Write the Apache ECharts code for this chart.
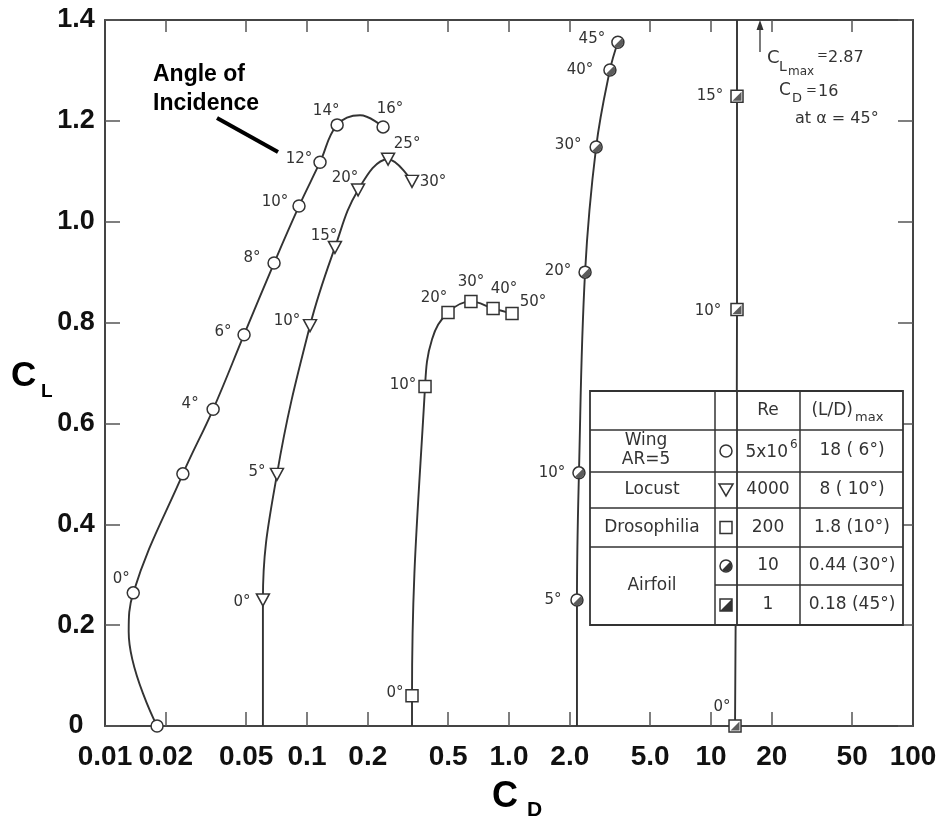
<!DOCTYPE html>
<html><head><meta charset="utf-8">
<script src="https://cdn.jsdelivr.net/npm/echarts@6/dist/echarts.min.js"></script>
<style>html,body{margin:0;padding:0;background:#fff}#c{width:941px;height:821px}</style>
</head><body><div id="c"></div>
<script>
// ---------------- DATA ----------------
const xTickValues = [0.01, 0.02, 0.05, 0.1, 0.2, 0.5, 1, 2, 5, 10, 20, 50, 100];
const xTickLabels = ['0.01', '0.02', '0.05', '0.1', '0.2', '0.5', '1.0', '2.0', '5.0', '10', '20', '50', '100'];
const yTickValues = [0, 0.2, 0.4, 0.6, 0.8, 1.0, 1.2, 1.4];
const yTickLabels = ['0', '0.2', '0.4', '0.6', '0.8', '1.0', '1.2', '1.4'];

// angle '' = marker without label, null = point (no marker)
const wingCD = [0.0181, 0.0131, 0.0138, 0.0243, 0.0343, 0.0488, 0.0687, 0.0913, 0.116, 0.141, 0.183, 0.238];
const wingCL = [0, 0.187, 0.264, 0.50, 0.628, 0.776, 0.918, 1.031, 1.118, 1.192, 1.211, 1.188];
const wingAngle = ['', null, '0°', '', '4°', '6°', '8°', '10°', '12°', '14°', null, '16°'];

const locustCD = [0.0605, 0.0605, 0.0710, 0.1035, 0.1375, 0.179, 0.252, 0.331];
const locustCL = [0, 0.250, 0.499, 0.794, 0.949, 1.063, 1.124, 1.080];
const locustAngle = [null, '0°', '5°', '10°', '15°', '20°', '25°', '30°'];

const drosoCD = [0.331, 0.331, 0.384, 0.416, 0.499, 0.648, 0.834, 1.035];
const drosoCL = [0, 0.060, 0.673, 0.767, 0.820, 0.842, 0.828, 0.818];
const drosoAngle = [null, '0°', '10°', null, '20°', '30°', '40°', '50°'];

const airfoil10CD = [2.17, 2.17, 2.22, 2.38, 2.70, 3.16, 3.46];
const airfoil10CL = [0, 0.250, 0.502, 0.900, 1.148, 1.301, 1.356];
const airfoil10Angle = [null, '5°', '10°', '20°', '30°', '40°', '45°'];

const airfoil1CD = [13.15, 13.45, 13.45, 13.45];
const airfoil1CL = [0, 0.826, 1.249, 1.40];
const airfoil1Angle = ['0°', '10°', '15°', null];

const tableHeader = ['Re', '(L/D)', 'max'];
const tableNames = ['Wing', 'AR=5', 'Locust', 'Drosophilia', 'Airfoil'];
const tableRe = ['5x10', '4000', '200', '10', '1'];
const tableReExp = '6';
const tableLD = ['18 ( 6°)', '8 ( 10°)', '1.8 (10°)', '0.44 (30°)', '0.18 (45°)'];
const noteText = ['C', 'L', 'max', '=', '2.87', 'C', 'D', '=', '16', 'at α = 45°'];
const pointerText = ['Angle of', 'Incidence'];
const axisNames = ['C', 'L', 'C', 'D'];

// ---------------- STYLE / LAYOUT ----------------
const wingOffsets = [null, null, [-12, -14], null, [-23, -5], [-21, -3], [-22, -5], [-24, -4], [-21, -3], [-11, -14], null, [7, -18]];
const locustOffsets = [null, [-21, 2], [-20, -2], [-23, -4], [-11, -11], [-13, -12], [19, -15], [21, 1]];
const drosoOffsets = [null, [-17, -3], [-22, -2], null, [-14, -14], [0, -19], [11, -19], [21, -11]];
const a10Offsets = [null, [-24, 0], [-27, 0], [-27, -1], [-28, -2], [-30, 0], [-26, -3]];
const a1Offsets = [[-13, -19], [-29, 2], [-27, 0], null];

const INK = '#333';
const LBL_FONT = '"DejaVu Sans", sans-serif';

function buildData(cd, cl, angle, offsets) {
  return cd.map((x, i) => {
    const item = { value: [x, cl[i]], name: angle[i] || '' };
    if (angle[i] === null) item.symbol = 'none';
    if (angle[i]) item.label = { show: true, offset: offsets[i] };
    return item;
  });
}
function markerData(cd, cl, angle) {
  const out = [];
  cd.forEach((x, i) => { if (angle[i] !== null) out.push([x, cl[i]]); });
  return out;
}
function lineSeries(name, data, symbol, size, rotate) {
  return {
    name, type: 'line', data, smooth: 0.4, clip: false,
    symbol, symbolSize: size, symbolRotate: rotate || 0,
    lineStyle: { color: INK, width: 1.9 },
    itemStyle: { color: '#fff', borderColor: INK, borderWidth: 1.5 },
    label: { show: false, position: 'inside', formatter: '{b}', fontFamily: LBL_FONT, fontSize: 15, color: '#333' },
    emphasis: { disabled: true }, z: 2
  };
}
const halfDisk = 'path://M1.7071 0.2929 A1 1 0 0 1 0.2929 1.7071 Z';
const halfSquare = 'path://M2 0 L2 2 L0 2 Z';

function findIdx(arr, v, log) {
  return arr.findIndex(t => Math.abs((log ? Math.log10(t) - Math.log10(v) : t - v)) < 1e-6);
}

const chart = echarts.init(document.getElementById('c'), null, { renderer: 'canvas' });

// table geometry
const T = { x0: 590, x1: 715, x2: 737, x3: 800, x4: 903, y0: 391, y1: 430, y2: 472, y3: 508, y4: 547, y5: 585, y6: 625 };
const tFont = '17px "DejaVu Sans"';
function txt(text, x, y, font, align, fill) {
  return { type: 'text', x, y, z: 101, silent: true,
    style: { text, font: font || tFont, fill: fill || '#333', align: align || 'center', verticalAlign: 'middle' } };
}
function ln(x1, y1, x2, y2, w, c) {
  return { type: 'line', z: 101, silent: true, shape: { x1, y1, x2, y2 }, style: { stroke: c || '#333', lineWidth: w || 1.5 } };
}
const rowY = [(T.y1 + T.y2) / 2, (T.y2 + T.y3) / 2, (T.y3 + T.y4) / 2, (T.y4 + T.y5) / 2, (T.y5 + T.y6) / 2];
const symX = 726, reX = 768, ldX = 852, nameX = 652;
const tableEls = [
  { type: 'rect', z: 100, silent: true, shape: { x: T.x0, y: T.y0, width: T.x4 - T.x0, height: T.y6 - T.y0 }, style: { fill: '#fff', stroke: '#333', lineWidth: 1.8 } },
  ln(T.x1, T.y0, T.x1, T.y6), ln(T.x2, T.y0, T.x2, T.y6, 1.8), ln(T.x3, T.y0, T.x3, T.y6),
  ln(T.x0, T.y1, T.x4, T.y1), ln(T.x0, T.y2, T.x4, T.y2), ln(T.x0, T.y3, T.x4, T.y3), ln(T.x0, T.y4, T.x4, T.y4),
  ln(T.x1, T.y5, T.x4, T.y5),
  txt(tableHeader[0], reX, 411),
  txt(tableHeader[1], 853, 411, tFont, 'right'),
  txt(tableHeader[2], 855, 418, '13px "DejaVu Sans"', 'left'),
  txt(tableNames[0], 646, 441), txt(tableNames[1], 646, 460),
  txt(tableNames[2], nameX, rowY[1]), txt(tableNames[3], nameX, rowY[2]),
  txt(tableNames[4], nameX, (T.y4 + T.y6) / 2),
  txt(tableRe[0], 788, rowY[0] + 2, tFont, 'right'), txt(tableReExp, 790, rowY[0] - 6, '12px "DejaVu Sans"', 'left'),
  txt(tableRe[1], reX, rowY[1]), txt(tableRe[2], reX, rowY[2]), txt(tableRe[3], reX, rowY[3]), txt(tableRe[4], reX, rowY[4]),
  txt(tableLD[0], ldX, rowY[0]), txt(tableLD[1], ldX, rowY[1]), txt(tableLD[2], ldX, rowY[2]),
  txt(tableLD[3], ldX, rowY[3]), txt(tableLD[4], ldX, rowY[4]),
  { type: 'circle', z: 101, silent: true, shape: { cx: symX, cy: rowY[0], r: 6 }, style: { fill: '#fff', stroke: '#333', lineWidth: 1.5 } },
  { type: 'polygon', z: 101, silent: true, shape: { points: [[symX - 7, rowY[1] - 6], [symX + 7, rowY[1] - 6], [symX, rowY[1] + 6]] }, style: { fill: '#fff', stroke: '#333', lineWidth: 1.5 } },
  { type: 'rect', z: 101, silent: true, shape: { x: symX - 6, y: rowY[2] - 6, width: 12, height: 12 }, style: { fill: '#fff', stroke: '#333', lineWidth: 1.5 } },
  { type: 'circle', z: 101, silent: true, shape: { cx: symX, cy: rowY[3], r: 6 }, style: { fill: '#fff', stroke: '#333', lineWidth: 1.5 } },
  { type: 'sector', z: 102, silent: true, shape: { cx: symX, cy: rowY[3], r0: 0, r: 5.5, startAngle: -Math.PI / 4, endAngle: 3 * Math.PI / 4, clockwise: true }, style: { fill: '#333' } },
  { type: 'rect', z: 101, silent: true, shape: { x: symX - 6, y: rowY[4] - 6, width: 12, height: 12 }, style: { fill: '#fff', stroke: '#333', lineWidth: 1.5 } },
  { type: 'polygon', z: 102, silent: true, shape: { points: [[symX + 6, rowY[4] - 6], [symX + 6, rowY[4] + 6], [symX - 6, rowY[4] + 6]] }, style: { fill: '#333' } }
];
const noteEls = [
  ln(760, 52, 760, 26, 1.3),
  { type: 'polygon', z: 101, silent: true, shape: { points: [[760, 20], [756.5, 30], [763.5, 30]] }, style: { fill: '#333' } },
  txt(noteText[0], 767, 58, '18px "DejaVu Sans"', 'left'),
  txt(noteText[1], 779, 67, '14px "DejaVu Sans"', 'left'),
  txt(noteText[2], 788, 72, '12px "DejaVu Sans"', 'left'),
  txt(noteText[3], 817, 56, '13px "DejaVu Sans"', 'left'),
  txt(noteText[4], 828, 58, '16px "DejaVu Sans"', 'left'),
  txt(noteText[5], 779, 91, '17px "DejaVu Sans"', 'left'),
  txt(noteText[6], 792, 99, '13px "DejaVu Sans"', 'left'),
  txt(noteText[7], 806, 91, '13px "DejaVu Sans"', 'left'),
  txt(noteText[8], 818, 92, '16px "DejaVu Sans"', 'left'),
  txt(noteText[9], 795, 119, '16px "DejaVu Sans"', 'left'),
  txt(pointerText[0], 153, 75, 'bold 23px "Liberation Sans"', 'left', '#000'),
  txt(pointerText[1], 153, 104, 'bold 23px "Liberation Sans"', 'left', '#000'),
  ln(217, 118, 278, 152, 4, '#000'),
  txt(axisNames[0], 11, 376, 'bold 35px "Liberation Sans"', 'left', '#000'),
  txt(axisNames[1], 41, 392, 'bold 19px "Liberation Sans"', 'left', '#000'),
  txt(axisNames[2], 492, 797, 'bold 36px "Liberation Sans"', 'left', '#000'),
  txt(axisNames[3], 527, 810, 'bold 21px "Liberation Sans"', 'left', '#000')
];

const axisLineStyle = { color: '#444', width: 2 };
const tickStyle = { color: '#555', width: 1.5 };
const xTickInner = xTickValues.slice(1, -1);

const option = {
  animation: false,
  backgroundColor: '#fff',
  grid: { left: 105, top: 20, width: 808, height: 706, containLabel: false, outerBoundsMode: 'none' },
  xAxis: [
    { type: 'log', logBase: 10, min: 0.01, max: 100, position: 'bottom',
      axisLine: { show: true, onZero: false, lineStyle: axisLineStyle },
      axisTick: { show: true, inside: true, length: 14, lineStyle: tickStyle, customValues: xTickInner },
      axisLabel: { show: true, customValues: xTickValues, margin: 17, fontFamily: '"Liberation Sans", Arial, sans-serif', fontWeight: 'bold', fontSize: 28, color: '#111',
        formatter: v => { const i = findIdx(xTickValues, v, true); return i >= 0 ? xTickLabels[i] : ''; } },
      splitLine: { show: false }, minorTick: { show: false } },
    { type: 'log', logBase: 10, min: 0.01, max: 100, position: 'top',
      axisLine: { show: true, onZero: false, lineStyle: axisLineStyle },
      axisTick: { show: true, inside: true, length: 12, lineStyle: tickStyle, customValues: xTickInner },
      axisLabel: { show: false }, splitLine: { show: false } }
  ],
  yAxis: [
    { type: 'value', min: 0, max: 1.4, interval: 0.2, position: 'left',
      axisLine: { show: true, onZero: false, lineStyle: axisLineStyle },
      axisTick: { show: true, inside: true, length: 15, lineStyle: tickStyle },
      axisLabel: { show: true, margin: 29, align: 'center', fontFamily: '"Liberation Sans", Arial, sans-serif', fontWeight: 'bold', fontSize: 27, color: '#111',
        formatter: v => { const i = findIdx(yTickValues, v, false); return i >= 0 ? yTickLabels[i] : ''; } },
      splitLine: { show: false } },
    { type: 'value', min: 0, max: 1.4, interval: 0.2, position: 'right',
      axisLine: { show: true, onZero: false, lineStyle: axisLineStyle },
      axisTick: { show: true, inside: true, length: 15, lineStyle: tickStyle },
      axisLabel: { show: false }, splitLine: { show: false } }
  ],
  series: [
    lineSeries('Wing AR=5', buildData(wingCD, wingCL, wingAngle, wingOffsets), 'circle', 12),
    lineSeries('Locust', buildData(locustCD, locustCL, locustAngle, locustOffsets), 'triangle', [13, 12], 180),
    lineSeries('Drosophilia', buildData(drosoCD, drosoCL, drosoAngle, drosoOffsets), 'rect', 12),
    lineSeries('Airfoil Re=10', buildData(airfoil10CD, airfoil10CL, airfoil10Angle, a10Offsets), 'circle', 12),
    lineSeries('Airfoil Re=1', buildData(airfoil1CD, airfoil1CL, airfoil1Angle, a1Offsets), 'rect', 12),
    { name: 'Re=10 fill', type: 'scatter', data: markerData(airfoil10CD, airfoil10CL, airfoil10Angle), clip: false,
      symbol: halfDisk, symbolSize: 9.05, symbolOffset: [0.78, 0.78], itemStyle: { color: INK }, silent: true, z: 3 },
    { name: 'Re=1 fill', type: 'scatter', data: markerData(airfoil1CD, airfoil1CL, airfoil1Angle), clip: false,
      symbol: halfSquare, symbolSize: 9, itemStyle: { color: INK }, silent: true, z: 3 }
  ],
  graphic: { elements: tableEls.concat(noteEls) }
};
chart.setOption(option);
</script></body></html>
